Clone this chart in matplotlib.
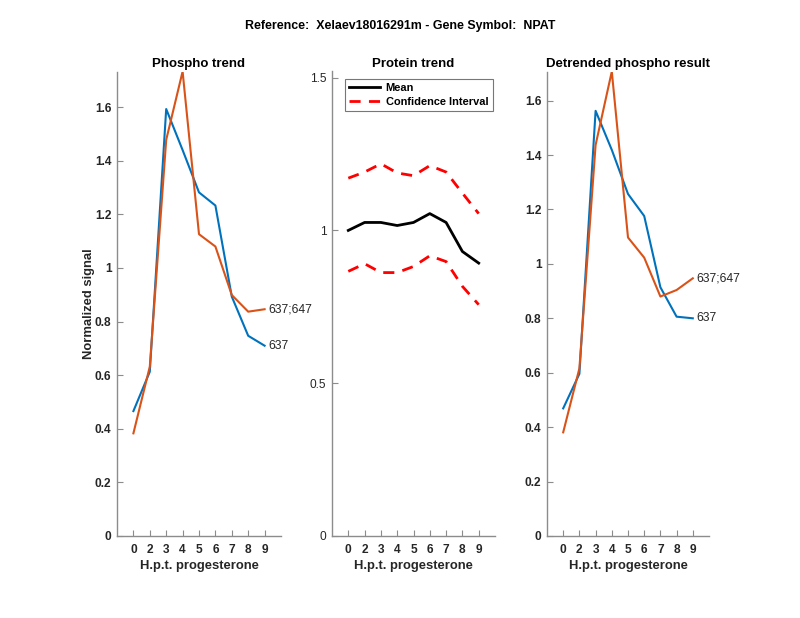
import matplotlib
matplotlib.use('Agg')
import matplotlib.pyplot as plt
import numpy as np

plt.rcParams['font.family'] = ['Liberation Sans', 'DejaVu Sans']

# time points (h.p.t. progesterone), plotted at equal spacing
time_labels = ['0', '2', '3', '4', '5', '6', '7', '8', '9']

# phospho trend
phospho_637 = [0.466, 0.613, 1.593, 1.44, 1.282, 1.233, 0.893, 0.747, 0.710]
phospho_637_647 = [0.383, 0.632, 1.478, 1.733, 1.126, 1.080, 0.899, 0.837, 0.846]

# protein trend
protein_mean = [1.0, 1.026, 1.026, 1.016, 1.026, 1.055, 1.026, 0.931, 0.893]
protein_upper = [1.171, 1.191, 1.218, 1.188, 1.179, 1.212, 1.191, 1.122, 1.055]
protein_lower = [0.866, 0.891, 0.862, 0.862, 0.882, 0.917, 0.898, 0.817, 0.757]

# detrended phospho
detr_637 = [0.469, 0.596, 1.5625, 1.419, 1.257, 1.176, 0.914, 0.806, 0.800]
detr_637_647 = [0.381, 0.616, 1.437, 1.707, 1.097, 1.023, 0.880, 0.904, 0.947]

blue = '#0072BD'
orange = '#D95319'
axcol = '#262626'

fig = plt.figure(figsize=(8, 6.18), dpi=100)
x = np.arange(1, len(time_labels) + 1)

bottom = 82 / 618
height = 464.5 / 618
ax1 = fig.add_axes([117 / 800, bottom, 164 / 800, height])
ax2 = fig.add_axes([332 / 800, bottom, 163 / 800, height])
ax3 = fig.add_axes([547 / 800, bottom, 162 / 800, height])


def style(ax, ticks, bold_y=True):
    for s in ['top', 'right']:
        ax.spines[s].set_visible(False)
    for s in ['left', 'bottom']:
        ax.spines[s].set_color('#8c8c8c')
        ax.spines[s].set_linewidth(1.0)
    ax.set_xlim(0, 10)
    ax.set_xticks(x)
    ax.set_xticklabels(time_labels, fontweight='bold')
    ax.set_yticks(ticks)
    ax.set_yticklabels([('%g' % t) for t in ticks],
                       fontweight='bold' if bold_y else 'normal')
    ax.tick_params(direction='in', length=4, width=0.8, colors='#8c8c8c',
                   labelcolor=axcol, labelsize=8.6)
    ax.tick_params(axis='x', pad=6)
    ax.tick_params(axis='y', pad=4)
    ax.set_xlabel('H.p.t. progesterone', fontsize=9.4, fontweight='bold',
                  color=axcol, labelpad=3)


# left panel
ax1.plot(x, phospho_637, color=blue, lw=1.5)
ax1.plot(x, phospho_637_647, color=orange, lw=1.5)
ax1.set_ylim(0, max(phospho_637_647))
style(ax1, [0, 0.2, 0.4, 0.6, 0.8, 1, 1.2, 1.4, 1.6])
ax1.text(9.25, phospho_637[-1], '637', fontsize=8.7, va='center', color=axcol)
ax1.text(9.25, phospho_637_647[-1], '637;647', fontsize=8.7, va='center', color=axcol)
ax1.set_title('Phospho trend', fontsize=9.5, fontweight='bold', color='black', pad=3.5)
ax1.set_ylabel('Normalized signal', fontsize=9.4, fontweight='bold', color=axcol)
ax1.yaxis.set_label_coords(-0.137, 0.5)

# middle panel
ax2.plot(x, protein_mean, color='black', lw=2, label='Mean')
ax2.plot(x, protein_upper, color='red', lw=2, ls=(0, (4, 3)), label='Confidence Interval')
ax2.plot(x, protein_lower, color='red', lw=2, ls=(0, (4, 3)))
ax2.set_ylim(0, 1.52)
style(ax2, [0, 0.5, 1, 1.5], bold_y=False)
ax2.set_title('Protein trend', fontsize=9.5, fontweight='bold', color='black', pad=3.5)
leg = ax2.legend(loc='upper left', bbox_to_anchor=(0.08, 0.984), fontsize=7.9,
                 frameon=True, fancybox=False, handlelength=2.8,
                 borderpad=0.4, labelspacing=0.3, handletextpad=0.5,
                 borderaxespad=0)
leg.get_frame().set_edgecolor('#555555')
leg.get_frame().set_linewidth(0.8)
for t in leg.get_texts():
    t.set_fontweight('bold')

# right panel
ax3.plot(x, detr_637, color=blue, lw=1.5)
ax3.plot(x, detr_637_647, color=orange, lw=1.5)
ax3.set_ylim(0, max(detr_637_647))
style(ax3, [0, 0.2, 0.4, 0.6, 0.8, 1, 1.2, 1.4, 1.6])
ax3.text(9.25, detr_637[-1], '637', fontsize=8.7, va='center', color=axcol)
ax3.text(9.25, detr_637_647[-1], '637;647', fontsize=8.7, va='center', color=axcol)
ax3.set_title('Detrended phospho result', fontsize=9.5, fontweight='bold',
              color='black', pad=3.5)

fig.text(0.5, 1 - 26 / 618, 'Reference:  Xelaev18016291m - Gene Symbol:  NPAT',
         ha='center', va='center', fontsize=8.9, fontweight='bold')

fig.savefig('out.png', dpi=100)
